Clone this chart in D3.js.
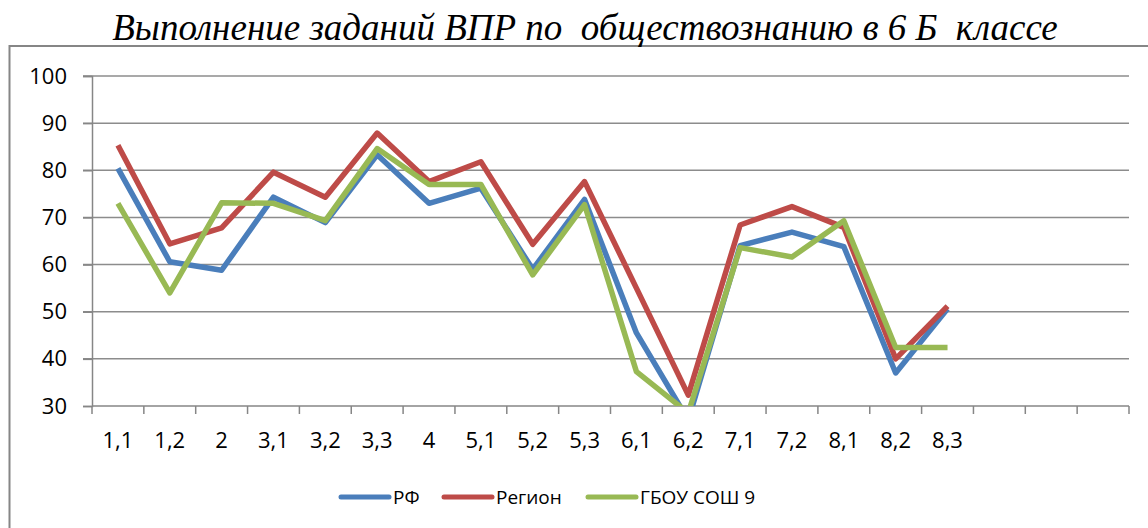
<!DOCTYPE html>
<html>
<head>
<meta charset="utf-8">
<script src="https://cdn.jsdelivr.net/npm/d3@7"></script>
<style>
  body { margin: 0; background: #fff; }
  svg { display: block; }
  text { font-family: "Open Sans", Lato, sans-serif; fill: #000; }
</style>
</head>
<body>
<script>
// task labels; the last three slots are empty in the original chart
var categories = ["1,1","1,2","2","3,1","3,2","3,3","4","5,1","5,2","5,3","6,1","6,2","7,1","7,2","8,1","8,2","8,3","","",""];
var rf     = [80.4, 60.6, 58.8, 74.3, 68.9, 83.3, 73.0, 76.2, 59.0, 73.8, 45.5, 27.0, 64.0, 66.9, 63.8, 37.0, 50.6];
var region = [85.3, 64.4, 67.8, 79.6, 74.3, 87.9, 77.6, 81.8, 64.3, 77.6, 55.0, 32.3, 68.4, 72.3, 67.9, 40.0, 51.2];
var school = [73.0, 54.0, 73.1, 73.0, 69.3, 84.6, 77.0, 77.0, 57.8, 72.7, 37.3, 28.5, 63.6, 61.6, 69.3, 42.4, 42.4];
var seriesNames = ["РФ", "Регион", "ГБОУ СОШ 9"];
var colors = ["#4A7EBB", "#BE4B48", "#98B954"];
var yTicks = [30, 40, 50, 60, 70, 80, 90, 100];

var W = 1148, H = 528;
var svg = d3.select("body").append("svg").attr("width", W).attr("height", H);

// outer chart frame (runs off the right and bottom edges)
svg.append("rect")
    .attr("x", 9.5).attr("y", 46)
    .attr("width", 1160).attr("height", 520)
    .attr("fill", "none").attr("stroke", "#868686").attr("stroke-width", 2);

svg.append("text")
    .attr("x", 585).attr("y", 40)
    .attr("text-anchor", "middle")
    .attr("xml:space", "preserve")
    .style("font-family", "'Liberation Serif', 'Times New Roman', serif")
    .style("font-style", "italic")
    .style("font-size", "37px")
    .text("Выполнение заданий ВПР по  обществознанию в 6 Б  классе");

var pLeft = 92, pRight = 1129, pTop = 76, pBottom = 406;

var x = d3.scaleBand().domain(d3.range(categories.length)).range([pLeft, pRight]);
var y = d3.scaleLinear().domain([30, 100]).range([pBottom, pTop]);

// gridlines
svg.append("g").selectAll("line").data(yTicks.slice(1)).join("line")
    .attr("x1", pLeft - 9).attr("x2", pRight)
    .attr("y1", d => y(d)).attr("y2", d => y(d))
    .attr("stroke", "#8c8c8c").attr("stroke-width", 1.5);

// y axis
var yAxis = svg.append("g").attr("transform", "translate(" + pLeft + ",0)")
    .call(d3.axisLeft(y).tickValues(yTicks).tickSize(9).tickPadding(16));
yAxis.select(".domain").attr("stroke", "#868686").attr("stroke-width", 1.5);
yAxis.selectAll(".tick line").attr("stroke", "#868686").attr("stroke-width", 1.5);
yAxis.selectAll("text").style("font-size", "22px").style("font-family", "'Open Sans', sans-serif");

// x axis: ticks at category boundaries
var xg = svg.append("g");
xg.append("line").attr("x1", pLeft).attr("x2", pRight).attr("y1", pBottom).attr("y2", pBottom)
    .attr("stroke", "#868686").attr("stroke-width", 1.5);
xg.selectAll("line.tk").data(d3.range(categories.length + 1)).join("line")
    .attr("class", "tk")
    .attr("x1", i => i < categories.length ? x(i) : pRight)
    .attr("x2", i => i < categories.length ? x(i) : pRight)
    .attr("y1", pBottom).attr("y2", pBottom + 8)
    .attr("stroke", "#868686").attr("stroke-width", 1.5);
xg.selectAll("text").data(categories).join("text")
    .attr("x", (d, i) => x(i) + x.bandwidth() / 2)
    .attr("y", 448)
    .attr("text-anchor", "middle")
    .style("font-size", "22px")
    .text(d => d);

svg.append("clipPath").attr("id", "plot-clip")
  .append("rect").attr("x", pLeft).attr("y", pTop - 20).attr("width", pRight - pLeft).attr("height", pBottom - pTop + 20);

var line = d3.line()
    .x((d, i) => x(i) + x.bandwidth() / 2)
    .y(d => y(d));

var plot = svg.append("g").attr("clip-path", "url(#plot-clip)");
[rf, region, school].forEach(function(s, k) {
  plot.append("path")
      .datum(s)
      .attr("d", line)
      .attr("fill", "none")
      .attr("stroke", colors[k])
      .attr("stroke-width", 5.5)
      .attr("stroke-linejoin", "round");
});

// legend
var legendX = [341, 444, 588];
var lg = svg.append("g").selectAll("g").data(seriesNames).join("g")
    .attr("transform", (d, i) => "translate(" + legendX[i] + ",497)");
lg.append("line").attr("x1", 0).attr("x2", 48)
    .attr("stroke", (d, i) => colors[i]).attr("stroke-width", 5).attr("stroke-linecap", "round");
lg.append("text").attr("x", 52).attr("y", 7).style("font-size", "19px").text(d => d);
</script>
</body>
</html>
